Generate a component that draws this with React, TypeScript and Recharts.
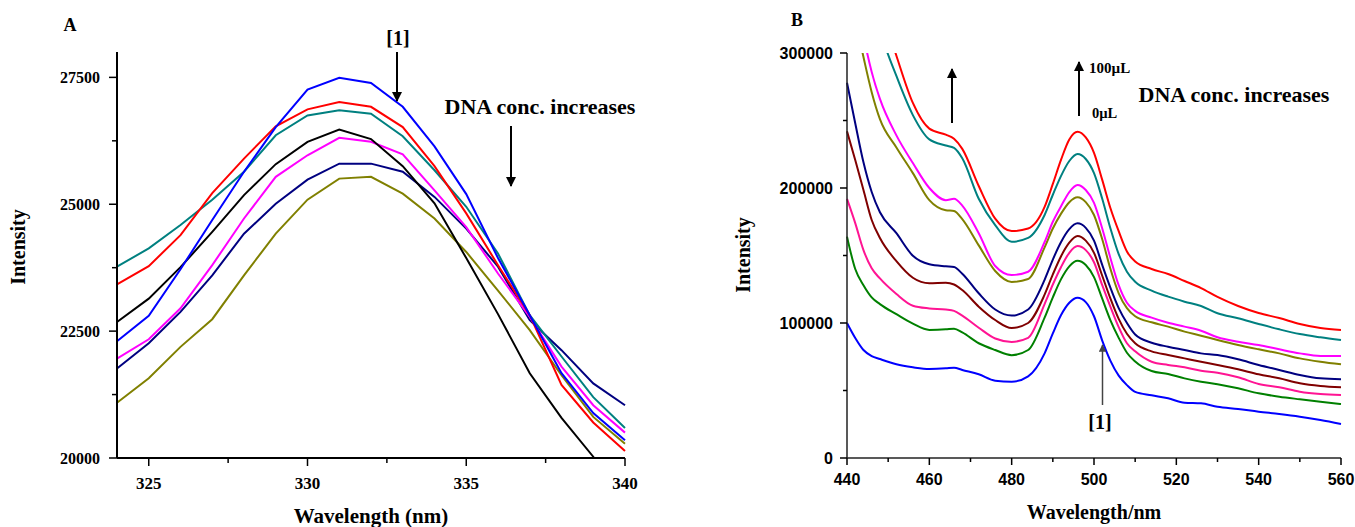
import { LineChart, Line, XAxis, YAxis } from 'recharts'

// ---------- panel A: fluorescence, 324-340 nm ----------
const wlA = [324, 325, 326, 327, 328, 329, 330, 331, 332, 333, 334, 335, 336, 337, 338, 339, 340]
const aBlue = [22300, 22800, 23720, 24690, 25640, 26520, 27260, 27490, 27390, 26920, 26140, 25200, 23940, 22815, 21670, 20885, 20350]
const aRed = [23420, 23780, 24390, 25220, 25900, 26535, 26870, 27015, 26920, 26520, 25750, 24820, 23800, 22815, 21440, 20700, 20140]
const aTeal = [23770, 24130, 24590, 25090, 25640, 26360, 26750, 26850, 26785, 26340, 25670, 24950, 24030, 22815, 22000, 21200, 20590]
const aBlack = [22680, 23140, 23760, 24455, 25180, 25790, 26230, 26470, 26285, 25750, 25020, 23940, 22835, 21670, 20790, 20025, 19100]
const aMagenta = [21960, 22340, 22950, 23800, 24720, 25540, 25965, 26310, 26230, 25985, 25275, 24550, 23635, 22780, 21800, 21040, 20500]
const aNavy = [21765, 22260, 22880, 23600, 24420, 25010, 25485, 25800, 25800, 25640, 25145, 24520, 23770, 22715, 22125, 21470, 21040]
const aOlive = [21090, 21570, 22190, 22735, 23600, 24420, 25090, 25505, 25540, 25210, 24720, 24060, 23300, 22520, 21630, 20810, 20280]

const aXTicks = [325, 327.5, 330, 332.5, 335, 337.5, 340]
const aXMajor = [325, 330, 335, 340]
const aYTicks = [20000, 21250, 22500, 23750, 25000, 26250, 27500]
const aYMajor = [20000, 22500, 25000, 27500]

// ---------- panel B: emission, 440-560 nm ----------
const wlB = [440, 442, 444, 446, 448, 452, 456, 460, 464, 466, 468, 472, 476, 480, 484, 488, 490, 492, 494, 496, 498, 500, 502, 504, 506, 508, 510, 514, 518, 522, 526, 530, 535, 540, 545, 550, 555, 560]
const bRed = [450000, 425000, 398000, 365000, 337000, 298000, 263000, 244000, 239500, 236500, 229000, 201500, 177300, 168100, 170000, 186000, 203000, 221000, 236000, 241700, 237500, 226000, 206000, 185000, 168000, 153000, 145500, 140000, 136300, 131100, 125900, 119300, 112600, 107400, 103700, 99300, 96300, 94800]
const bTeal = [420000, 395000, 370000, 345000, 318000, 283000, 254000, 236000, 231500, 229700, 222000, 192000, 172500, 160200, 163000, 180000, 195000, 209000, 220000, 225200, 221500, 211000, 192000, 170000, 151000, 138000, 130500, 124000, 119500, 115800, 112600, 107200, 103500, 99300, 95300, 91800, 89400, 87400]
const bMagenta = [385000, 348000, 313000, 286000, 266000, 239000, 218500, 200000, 191000, 192000, 187000, 166500, 142200, 135500, 138000, 160000, 175000, 186500, 197000, 202200, 198500, 189000, 170000, 148000, 128000, 115000, 109000, 104000, 100200, 97300, 94300, 89400, 86100, 83700, 80500, 77500, 75600, 75600]
const bOlive = [355000, 325000, 297000, 271000, 251000, 230000, 211000, 191000, 183500, 183000, 177000, 157500, 138500, 130400, 132600, 156000, 170000, 181000, 189500, 193100, 189500, 180000, 162000, 140000, 122000, 111000, 105000, 100500, 97300, 93600, 90600, 87400, 83700, 80500, 77500, 73800, 71300, 69400]
const bNavy = [278000, 248000, 219000, 197000, 182000, 166500, 149800, 143500, 142000, 141500, 136500, 122000, 110000, 105500, 110000, 132000, 147000, 160000, 169500, 173800, 170500, 161000, 143000, 126000, 111000, 100000, 91500, 85400, 82400, 80000, 77500, 76300, 73100, 68900, 65200, 61500, 59000, 58300]
const bMaroon = [242000, 220700, 198500, 176300, 163000, 145800, 133500, 129400, 129800, 128500, 124400, 112100, 102200, 96300, 100000, 121000, 136000, 149500, 159500, 164400, 161000, 152000, 135000, 118000, 103000, 92000, 85000, 79000, 76300, 73800, 71300, 68900, 65700, 62000, 59000, 55300, 53300, 52400]
const bPink = [192000, 174000, 154000, 140500, 133000, 121500, 112800, 110800, 110000, 109000, 105500, 96500, 88500, 86000, 89000, 114000, 128500, 141500, 152000, 157000, 154000, 145000, 128000, 112000, 97000, 85000, 79000, 71300, 68900, 67200, 64700, 63200, 59800, 54800, 52400, 49100, 47400, 46700]
const bGreen = [164000, 140000, 128000, 119000, 114000, 106500, 99500, 94900, 95300, 95800, 93000, 85000, 80000, 76200, 80000, 104000, 119000, 132500, 142000, 146100, 143000, 134000, 118000, 102000, 89000, 78000, 71500, 64400, 62200, 59000, 56500, 54600, 51600, 47900, 45400, 43500, 41700, 40000]
const bBlue = [100000, 88900, 80000, 75500, 73300, 69400, 67200, 65900, 66400, 66900, 65200, 62000, 57300, 56500, 60500, 77500, 92300, 105900, 115000, 118700, 115500, 105000, 87000, 72000, 61000, 54000, 49000, 46500, 44200, 41000, 40500, 38000, 36300, 34300, 32600, 30600, 28100, 25200]

const bXTicks = [440, 450, 460, 470, 480, 490, 500, 510, 520, 530, 540, 550, 560]
const bXMajor = [440, 460, 480, 500, 520, 540, 560]
const bYTicks = [0, 50000, 100000, 150000, 200000, 250000, 300000]
const bYMajor = [0, 100000, 200000, 300000]

const serif = "'Liberation Serif', 'Times New Roman', serif"
const sans = "'Liberation Sans', Arial, sans-serif"

const seriesA = [
  { key: 'olive', color: '#808000', values: aOlive },
  { key: 'navy', color: '#000080', values: aNavy },
  { key: 'magenta', color: '#FF00FF', values: aMagenta },
  { key: 'black', color: '#000000', values: aBlack },
  { key: 'teal', color: '#008080', values: aTeal },
  { key: 'red', color: '#FF0000', values: aRed },
  { key: 'blue', color: '#0000FF', values: aBlue },
]

const seriesB = [
  { key: 'blue', color: '#0000FF', values: bBlue },
  { key: 'green', color: '#008000', values: bGreen },
  { key: 'pink', color: '#FF1493', values: bPink },
  { key: 'maroon', color: '#800000', values: bMaroon },
  { key: 'navy', color: '#000080', values: bNavy },
  { key: 'olive', color: '#808000', values: bOlive },
  { key: 'magenta', color: '#FF00FF', values: bMagenta },
  { key: 'teal', color: '#008080', values: bTeal },
  { key: 'red', color: '#FF0000', values: bRed },
]

const dataA = wlA.map((w, i) => {
  const row: Record<string, number> = { w }
  seriesA.forEach((s) => (row[s.key] = s.values[i]))
  return row
})

const dataB = wlB.map((w, i) => {
  const row: Record<string, number> = { w }
  seriesB.forEach((s) => (row[s.key] = s.values[i]))
  return row
})

// ticks drawn by hand so that minor ticks are shorter and unlabelled
function xTick(majors: number[], font: string, size: number, majorLen: number, minorLen: number, dy: number) {
  // eslint-disable-next-line @typescript-eslint/no-explicit-any
  return (props: any) => {
    const { x, y, payload } = props
    const major = majors.includes(payload.value)
    return (
      <g>
        <line x1={x} x2={x} y1={y} y2={y + (major ? majorLen : minorLen)} stroke="#000" strokeWidth={1.5} />
        {major && (
          <text x={x} y={y + dy} textAnchor="middle" fontFamily={font} fontWeight="bold" fontSize={size} fill="#000">
            {payload.value}
          </text>
        )}
      </g>
    )
  }
}

function yTick(majors: number[], font: string, size: number, majorLen: number, minorLen: number, dx: number) {
  // eslint-disable-next-line @typescript-eslint/no-explicit-any
  return (props: any) => {
    const { x, y, payload } = props
    const major = majors.includes(payload.value)
    return (
      <g>
        <line x1={x - (major ? majorLen : minorLen)} x2={x} y1={y} y2={y} stroke="#000" strokeWidth={1.5} />
        {major && (
          <text x={x - dx} y={y + size * 0.35} textAnchor="end" fontFamily={font} fontWeight="bold" fontSize={size} fill="#000">
            {payload.value}
          </text>
        )}
      </g>
    )
  }
}

function ChartA() {
  return (
    <LineChart width={640} height={527} data={dataA} margin={{ top: 52, right: 15, bottom: 0, left: 0 }}>
      <XAxis
        dataKey="w"
        type="number"
        domain={[324, 340]}
        ticks={aXTicks}
        interval={0}
        height={69}
        tickSize={0}
        tickMargin={0}
        tickLine={false}
        axisLine={{ stroke: '#000', strokeWidth: 2 }}
        tick={xTick(aXMajor, serif, 17, 8, 5, 31)}
      />
      <YAxis
        type="number"
        domain={[20000, 28000]}
        allowDataOverflow
        ticks={aYTicks}
        interval={0}
        width={117}
        tickSize={0}
        tickMargin={0}
        tickLine={false}
        axisLine={{ stroke: '#000', strokeWidth: 2 }}
        tick={yTick(aYMajor, serif, 16, 8, 5, 17)}
      />
      {seriesA.map((s) => (
        <Line
          key={s.key}
          type="linear"
          dataKey={s.key}
          stroke={s.color}
          strokeWidth={2}
          dot={false}
          isAnimationActive={false}
        />
      ))}
    </LineChart>
  )
}

function ChartB() {
  return (
    <LineChart width={655} height={527} data={dataB} margin={{ top: 53, right: 14, bottom: 0, left: 0 }}>
      <XAxis
        dataKey="w"
        type="number"
        domain={[440, 560]}
        ticks={bXTicks}
        interval={0}
        height={69}
        tickSize={0}
        tickMargin={0}
        tickLine={false}
        axisLine={{ stroke: '#222', strokeWidth: 1.5 }}
        tick={xTick(bXMajor, sans, 16, 7, 4, 27)}
      />
      <YAxis
        type="number"
        domain={[0, 300000]}
        allowDataOverflow
        ticks={bYTicks}
        interval={0}
        width={147}
        tickSize={0}
        tickMargin={0}
        tickLine={false}
        axisLine={{ stroke: '#222', strokeWidth: 1.5 }}
        tick={yTick(bYMajor, sans, 16, 7, 4, 14)}
      />
      {seriesB.map((s) => (
        <Line
          key={s.key}
          type="monotone"
          dataKey={s.key}
          stroke={s.color}
          strokeWidth={2}
          dot={false}
          isAnimationActive={false}
        />
      ))}
    </LineChart>
  )
}

// titles, axis names and the arrows
function Overlay() {
  const bold = { fontFamily: serif, fontWeight: 'bold' as const, fill: '#000' }
  return (
    <svg width={1355} height={527} style={{ position: 'absolute', left: 0, top: 0, pointerEvents: 'none' }}>
      <defs>
        <marker id="head" viewBox="0 0 10 10" refX="9" refY="5" markerWidth="5" markerHeight="5" orient="auto-start-reverse">
          <path d="M0,0 L10,5 L0,10 z" fill="#000" />
        </marker>
        <marker id="headGrey" viewBox="0 0 10 10" refX="9" refY="5" markerWidth="5" markerHeight="5" orient="auto-start-reverse">
          <path d="M0,0 L10,5 L0,10 z" fill="#444" />
        </marker>
      </defs>

      {/* panel A */}
      <text x={70} y={31} fontSize={18} textAnchor="middle" {...bold}>A</text>
      <text x={398} y={45} fontSize={20} textAnchor="middle" {...bold}>[1]</text>
      <line x1={397} y1={52} x2={397} y2={101} stroke="#000" strokeWidth={2} markerEnd="url(#head)" />
      <text x={540} y={114} fontSize={22} textAnchor="middle" {...bold}>DNA conc. increases</text>
      <line x1={511} y1={126} x2={511} y2={186} stroke="#000" strokeWidth={2} markerEnd="url(#head)" />
      <text x={371} y={523} fontSize={21} textAnchor="middle" {...bold}>Wavelength (nm)</text>
      <text transform="translate(25,247) rotate(-90)" fontSize={20} textAnchor="middle" {...bold}>Intensity</text>

      {/* panel B */}
      <text x={797} y={26} fontSize={18} textAnchor="middle" {...bold}>B</text>
      <line x1={952} y1={123} x2={952} y2={69} stroke="#000" strokeWidth={2} markerEnd="url(#head)" />
      <line x1={1079} y1={116} x2={1079} y2={62} stroke="#000" strokeWidth={2} markerEnd="url(#head)" />
      <text x={1089} y={73} fontSize={15} {...bold}>100µL</text>
      <text x={1092} y={118} fontSize={14.5} {...bold}>0µL</text>
      <text x={1234} y={102} fontSize={22} textAnchor="middle" {...bold}>DNA conc. increases</text>
      <line x1={1102.5} y1={405} x2={1102.5} y2={345} stroke="#444" strokeWidth={1.5} markerEnd="url(#headGrey)" />
      <text x={1100} y={429} fontSize={20} textAnchor="middle" {...bold}>[1]</text>
      <text x={1094} y={519} fontSize={20} textAnchor="middle" {...bold}>Wavelength/nm</text>
      <text transform="translate(750,255) rotate(-90)" fontSize={20} textAnchor="middle" {...bold}>Intensity</text>
    </svg>
  )
}

export default function App() {
  return (
    <div style={{ position: 'absolute', left: 0, top: 0, width: 1355, height: 527, background: '#fff', overflow: 'hidden' }}>
      <div style={{ position: 'absolute', left: 0, top: 0 }}>
        <ChartA />
      </div>
      <div style={{ position: 'absolute', left: 700, top: 0 }}>
        <ChartB />
      </div>
      <Overlay />
    </div>
  )
}
